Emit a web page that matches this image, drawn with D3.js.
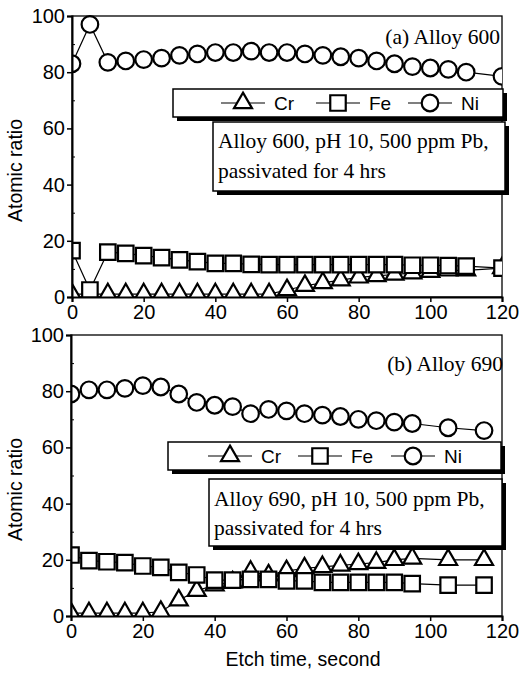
<!DOCTYPE html>
<html><head><meta charset="utf-8">
<script src="https://cdn.jsdelivr.net/npm/d3@7"></script>
<style>body{margin:0;background:#fff} svg{display:block}</style>
</head><body>
<svg id="chart" width="519" height="676"></svg>
<script>
// ---------- data ----------
const timeA = [0,5,10,15,20,25,30,35,40,45,50,55,60,65,70,75,80,85,90,95,100,105,110,120];
const crA = [1,1,1,1,1,1,1,1,1,1,1,1,2.5,4,5,6,7,7.5,8,8.5,9,9.5,9.5,10.3];
const feA = [16.5,2.5,16,15.5,14.7,14,13.2,12.6,12,12,11.6,11.5,11.5,11.5,11.5,11.5,11.5,11.5,11.5,11.3,11.3,11.2,11,10.3];
const niA = [83,97,83.5,84,84.5,85,86,86.5,87,87,87.5,87,87,86.5,86,85.5,85,84,83,82,81.5,81,80,78.5];

const timeB = [0,5,10,15,20,25,30,35,40,45,50,55,60,65,70,75,80,85,90,95,105,115];
const crB = [1,1,1,1,1,1.5,5.6,9,11,12,15.8,14.5,16,17,17.5,18,18.5,19,20,20.5,20,20];
const feB = [21.7,19.7,19.3,19,17.8,17.3,15.5,14.6,12.8,12.8,13,13,12.5,12.5,12,12,12,12,12,11.5,11,11];
const niB = [79,80.5,80.5,81,82,81.5,79,76,75,74.5,72,73.5,73,72,71.5,71,70,69.5,69,68.5,67,66];

const xTicks = [0,20,40,60,80,100,120];
const yTicks = [0,20,40,60,80,100];
const seriesNames = ["Cr","Fe","Ni"];
const seriesShapes = ["triangle","square","circle"];

const panels = [
  {id:"a", time:timeA, values:[crA,feA,niA], title:"(a) Alloy 600",
   info:["Alloy 600, pH 10, 500 ppm Pb,","passivated for 4 hrs"],
   x0:72, x1:502, yTop:16, yBot:297,
   titlePos:[500,44], leg:{x:173,y:89,w:330,h:28, items:[243,338,430]},
   box:{x:213,y:122,w:292,h:69}, infoY:[148,178]},
  {id:"b", time:timeB, values:[crB,feB,niB], title:"(b) Alloy 690",
   info:["Alloy 690, pH 10, 500 ppm Pb,","passivated for 4 hrs"],
   x0:71, x1:502, yTop:335, yBot:616,
   titlePos:[503,371], leg:{x:168,y:442,w:333,h:28, items:[230,320,413]},
   box:{x:209,y:479,w:293,h:67}, infoY:[506,535]}
];

const svg = d3.select("#chart");
const sans = "'Liberation Sans', Arial, sans-serif";
const serif = "'Liberation Serif', 'Times New Roman', serif";

function marker(g, shape, cx, cy) {
  if (shape === "circle") {
    g.append("circle").attr("cx", cx).attr("cy", cy).attr("r", 8.3)
      .attr("fill", "#fff").attr("stroke", "#000").attr("stroke-width", 2.2);
  } else {
    const size = shape === "square" ? 240 : 140;
    const type = shape === "square" ? d3.symbolSquare : d3.symbolTriangle;
    g.append("path").attr("d", d3.symbol().type(type).size(size)())
      .attr("transform", `translate(${cx},${cy})`)
      .attr("fill", "#fff").attr("stroke", "#000").attr("stroke-width", 2.2);
  }
}

panels.forEach((p, pi) => {
  const x = d3.scaleLinear().domain([0,120]).range([p.x0, p.x1]);
  const y = d3.scaleLinear().domain([0,100]).range([p.yBot, p.yTop]);
  const g = svg.append("g");

  const clipId = "clip" + p.id;
  svg.append("clipPath").attr("id", clipId).append("rect")
    .attr("x", p.x0).attr("y", p.yTop - 1).attr("width", p.x1 - p.x0).attr("height", p.yBot - p.yTop + 1);

  // frame
  g.append("rect").attr("x", p.x0).attr("y", p.yTop).attr("width", p.x1 - p.x0).attr("height", p.yBot - p.yTop)
    .attr("fill", "none").attr("stroke", "#000").attr("stroke-width", 1.3);

  // data
  const dg = g.append("g").attr("clip-path", `url(#${clipId})`);
  p.values.forEach((vals, si) => {
    const pts = p.time.map((t, i) => [x(t), y(vals[i])]);
    dg.append("path").attr("d", d3.line()(pts)).attr("fill", "none").attr("stroke", "#000").attr("stroke-width", 1.2);
  });
  p.values.forEach((vals, si) => {
    p.time.forEach((t, i) => marker(dg, seriesShapes[si], x(t), y(vals[i])));
  });

  // axes
  const yAxis = d3.axisLeft(y).tickValues(yTicks).tickSize(5).tickPadding(2);
  const ya = g.append("g").attr("transform", `translate(${p.x0},0)`).call(yAxis);
  ya.select(".domain").attr("stroke-width", 2);
  ya.selectAll("line").attr("stroke-width", 1.5);
  ya.selectAll("text").attr("font-family", sans).attr("font-size", 20).attr("fill", "#000");
  const yMinor = d3.axisLeft(y).tickValues([10,30,50,70,90]).tickSize(-3).tickFormat("");
  g.append("g").attr("transform", `translate(${p.x0},0)`).call(yMinor).select(".domain").remove();

  const xAxis = d3.axisBottom(x).tickValues(xTicks).tickSize(5).tickPadding(3);
  const xa = g.append("g").attr("transform", `translate(0,${p.yBot})`).call(xAxis);
  xa.select(".domain").attr("stroke-width", 2);
  xa.selectAll("line").attr("stroke-width", 1.5);
  xa.selectAll("text").attr("font-family", sans).attr("font-size", 20).attr("fill", "#000");

  // y label
  g.append("text").attr("transform", `translate(22,${(p.yTop + p.yBot) / 2 + 14}) rotate(-90)`)
    .attr("text-anchor", "middle").attr("font-family", sans).attr("font-size", 19.5).text("Atomic ratio");

  // title
  g.append("text").attr("x", p.titlePos[0]).attr("y", p.titlePos[1]).attr("text-anchor", "end")
    .attr("font-family", serif).attr("font-size", 21.5).text(p.title);

  // legend box
  const L = p.leg;
  g.append("rect").attr("x", L.x + 4).attr("y", L.y + 4).attr("width", L.w).attr("height", L.h).attr("fill", "#000");
  g.append("rect").attr("x", L.x).attr("y", L.y).attr("width", L.w).attr("height", L.h)
    .attr("fill", "#fff").attr("stroke", "#000").attr("stroke-width", 1.5);
  L.items.forEach((cx, si) => {
    const cy = L.y + L.h / 2;
    g.append("line").attr("x1", cx - 22).attr("x2", cx + 22).attr("y1", cy).attr("y2", cy)
      .attr("stroke", "#000").attr("stroke-width", 1.2);
    marker(g, seriesShapes[si], cx, cy);
    g.append("text").attr("x", cx + 31).attr("y", cy + 7).attr("font-family", sans).attr("font-size", 19)
      .text(seriesNames[si]);
  });

  // info box
  const B = p.box;
  g.append("rect").attr("x", B.x + 4).attr("y", B.y + 4).attr("width", B.w).attr("height", B.h).attr("fill", "#000");
  g.append("rect").attr("x", B.x).attr("y", B.y).attr("width", B.w).attr("height", B.h)
    .attr("fill", "#fff").attr("stroke", "#000").attr("stroke-width", 1.5);
  p.info.forEach((t, i) => {
    g.append("text").attr("x", B.x + 5).attr("y", p.infoY[i]).attr("font-family", serif).attr("font-size", 21.5).text(t);
  });

  if (pi === 1) {
    g.append("text").attr("x", 303).attr("y", 666).attr("text-anchor", "middle")
      .attr("font-family", sans).attr("font-size", 19.5).text("Etch time, second");
  }
});
</script>
</body></html>
